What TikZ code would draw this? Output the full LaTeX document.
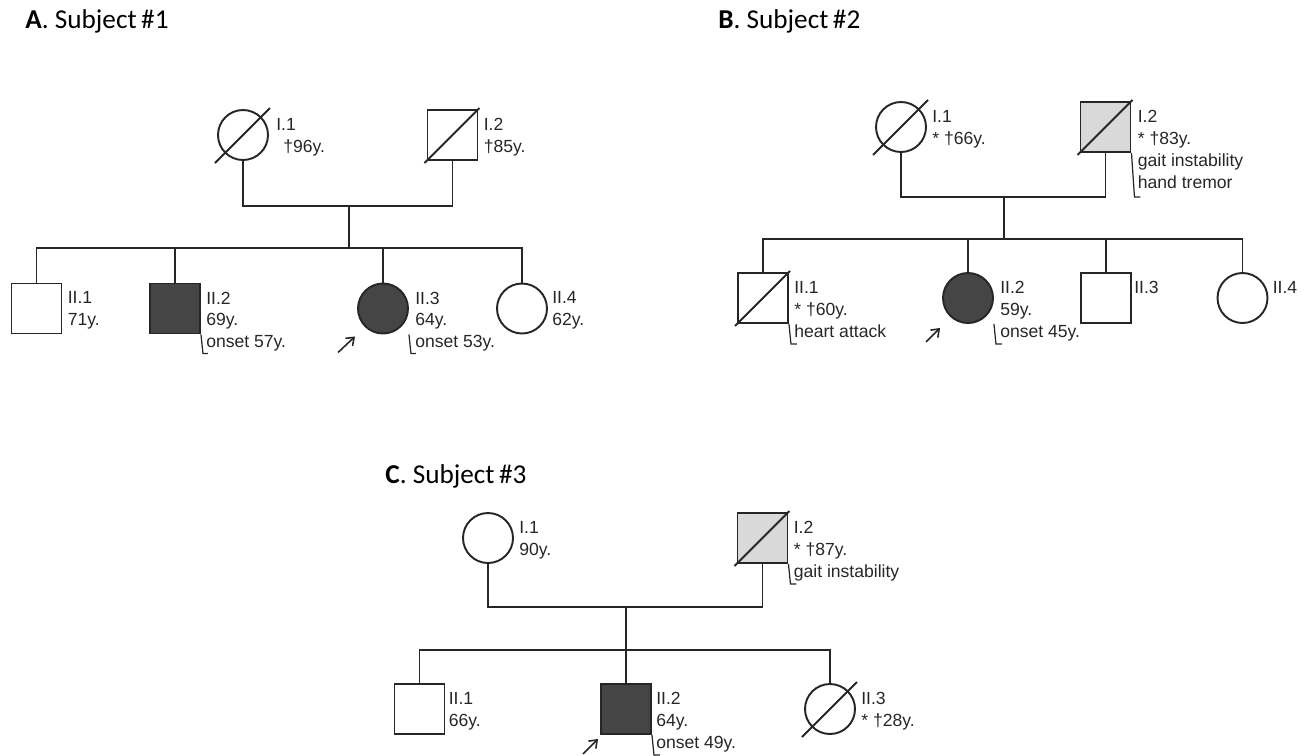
\documentclass[tikz,border=0pt]{standalone}
\usepackage{fontspec}
\setmainfont{Liberation Sans}
\newfontfamily\titlefam{Carlito}
\usepackage{tikz}
\usetikzlibrary{arrows.meta, positioning}
\definecolor{affgray}{HTML}{454545}
\definecolor{mildgray}{HTML}{D9D9D9}
\newcommand{\deadmark}[1]{\draw[line] ([shift={(-28,28)}]#1.center) -- ([shift={(27,-27)}]#1.center);}

\begin{document}
\begin{tikzpicture}[
  x=0.02cm, y=-0.02cm,
  line/.style={line width=1.1pt, black!85},
  male/.style={rectangle, draw=black!85, line width=1.1pt, minimum size=1cm, inner sep=0pt},
  female/.style={circle, draw=black!85, line width=1.1pt, minimum size=1cm, inner sep=0pt},
  affected/.style={fill=affgray},
  mild/.style={fill=mildgray},
  info/.style={anchor=north west, align=left, inner sep=0pt,
    font=\fontsize{10}{12.4}\selectfont, text=black!85},
  title/.style={anchor=base west, inner sep=0pt, font=\titlefam\fontsize{15.5}{17}\selectfont},
  bracket/.style={line width=0.7pt, black!85},
  proband/.style={-{Straight Barb[length=4pt, width=6pt]}, line width=0.9pt, black!85}
]
\useasboundingbox (0,0) rectangle (1307,755);

% ---------------- A. Subject #1
\node[title] (tA) at (25,28) {\textbf{A}. Subject\,\#1};

\node[female] (A11) at (243,135) {};
\node[male]   (A12) at (452.5,135) {};
\deadmark{A11}
\deadmark{A12}
\node[info] at ([shift={(7,9)}]A11.north -| A11.east) {I.1\\\hspace{4pt}†96y.};
\node[info] at ([shift={(5,9)}]A12.north east) {I.2\\†85y.};

\coordinate (Am) at (349,206);
\coordinate (As) at (349,248);
\draw[line] (A11.south) |- (Am) -| (A12.south);
\draw[line] (Am) -- (As);

\node[male]             (A21) at (36.5,308.5) {};
\node[male, affected]   (A22) at (175,308.5) {};
\node[female, affected] (A23) at (383,308.5) {};
\node[female]           (A24) at (522,308.5) {};
\draw[line] (A21.north) |- (As) -| (A24.north);
\draw[line] (As -| A22.north) -- (A22.north);
\draw[line] (As -| A23.north) -- (A23.north);

\node[info] at ([shift={(5,9)}]A21.north east) {II.1\\71y.};
\node[info] at ([shift={(5,9)}]A22.north east) {II.2\\69y.\\onset 57y.};
\node[info] at ([shift={(6,9)}]A23.north -| A23.east) {II.3\\64y.\\onset 53y.};
\node[info] at ([shift={(4,9)}]A24.north -| A24.east) {II.4\\62y.};
\draw[bracket] (A22.south east) -- ++(2,19) -- ++(5,0);
\draw[bracket] (A23.south -| A23.east) -- ++(2,19) -- ++(5,0);
\draw[proband] ([shift={(-19,18)}]A23.south -| A23.west) -- ([shift={(-2,2)}]A23.south -| A23.west);

% ---------------- B. Subject #2
\node[title] (tB) at (718,28) {\textbf{B}. Subject\,\#2};

\node[female]     (B11) at (901,127) {};
\node[male, mild] (B12) at (1105.5,127) {};
\deadmark{B11}
\deadmark{B12}
\node[info] at ([shift={(5,9)}]B11.north -| B11.east) {I.1\\* †66y.};
\node[info] (B12i) at ([shift={(6,9)}]B12.north east) {I.2\\* †83y.\\gait instability\\hand tremor};
\draw[bracket] (B12.south east) -- ++(3,44) -- ++(6,0);

\coordinate (Bm) at (1004,197);
\coordinate (Bs) at (1004,239);
\draw[line] (B11.south) |- (Bm) -| (B12.south);
\draw[line] (Bm) -- (Bs);

\node[male]             (B21) at (763,298) {};
\node[female, affected] (B22) at (968,298) {};
\node[male]             (B23) at (1106,298) {};
\node[female]           (B24) at (1242.5,298) {};
\deadmark{B21}
\draw[line] (B21.north) |- (Bs) -| (B24.north);
\draw[line] (Bs -| B22.north) -- (B22.north);
\draw[line] (Bs -| B23.north) -- (B23.north);

\node[info] at ([shift={(5,9)}]B21.north east) {II.1\\* †60y.\\heart attack};
\node[info] at ([shift={(6,9)}]B22.north -| B22.east) {II.2\\59y.\\onset 45y.};
\node[info] at ([shift={(2,9)}]B23.north east) {II.3};
\node[info] at ([shift={(4,9)}]B24.north -| B24.east) {II.4};
\draw[bracket] (B21.south east) -- ++(2,20) -- ++(6,0);
\draw[bracket] (B22.south -| B22.east) -- ++(2,20) -- ++(6,0);
\draw[proband] ([shift={(-16,18)}]B22.south -| B22.west) -- ([shift={(-2,4)}]B22.south -| B22.west);

% ---------------- C. Subject #3
\node[title] (tC) at (385,483) {\textbf{C}. Subject\,\#3};

\node[female]     (C11) at (488,538) {};
\node[male, mild] (C12) at (762.5,538) {};
\deadmark{C12}
\node[info] at ([shift={(5,9)}]C11.north -| C11.east) {I.1\\90y.};
\node[info] at ([shift={(5,9)}]C12.north east) {I.2\\* †87y.\\gait instability};
\draw[bracket] (C12.south east) -- ++(2,20) -- ++(6,0);

\coordinate (Cm) at (626,607);
\coordinate (Cs) at (626,650);
\draw[line] (C11.south) |- (Cm) -| (C12.south);
\draw[line] (Cm) -- (Cs);

\node[male]           (C21) at (419.5,709) {};
\node[male, affected] (C22) at (626,709) {};
\node[female]         (C23) at (830,709) {};
\deadmark{C23}
\draw[line] (C21.north) |- (Cs) -| (C23.north);
\draw[line] (Cs) -- (C22.north);

\node[info] at ([shift={(3,9)}]C21.north east) {II.1\\66y.};
\node[info] at ([shift={(4,9)}]C22.north east) {II.2\\64y.\\onset 49y.};
\node[info] at ([shift={(5,9)}]C23.north -| C23.east) {II.3\\* †28y.};
\draw[bracket] (C22.south east) -- ++(2,20) -- ++(6,0);
\draw[proband] ([shift={(-17,19)}]C22.south west) -- ([shift={(-2,4)}]C22.south west);

\end{tikzpicture}
\end{document}
